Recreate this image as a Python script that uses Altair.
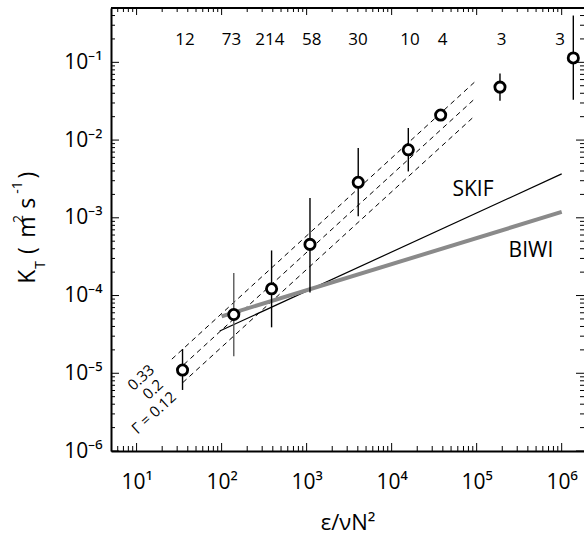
import altair as alt
import pandas as pd
import math

# ---------------- data ----------------
ratio = [34.7, 139, 387, 1095, 4045, 15700, 37700, 188000, 1370000]
kt = [1.1e-5, 5.7e-5, 1.22e-4, 4.55e-4, 2.86e-3, 7.5e-3, 2.1e-2, 4.8e-2, 0.114]
kt_low = [6.1e-6, 1.65e-5, 3.9e-5, 1.09e-4, 1.05e-3, 3.95e-3, 2.1e-2, 3.2e-2, 0.033]
kt_high = [2.05e-5, 1.95e-4, 3.8e-4, 1.8e-3, 7.9e-3, 1.43e-2, 2.1e-2, 7.2e-2, 0.40]

counts = ["12", "73", "214", "58", "30", "10", "4", "3", "3"]
count_x = [37, 131, 370, 1145, 4010, 16400, 39800, 197000, 955000]
count_y = [0.195, 0.195, 0.195, 0.195, 0.195, 0.195, 0.195, 0.195, 0.195]

gamma_labels = ["0.33", "0.2", "Γ = 0.12"]
gamma_x0 = [26, 30, 35]
gamma_y0 = [1.52e-5, 1.08e-5, 7.6e-6]
gamma_x1 = [95000, 95000, 95000]
gamma_y1 = [5.6e-2, 3.4e-2, 2.05e-2]
gamma_label_x = [11.3, 15.6, 16.0]
gamma_label_y = [8.8e-6, 6.2e-6, 3.1e-6]

model_names = ["SKIF", "BIWI"]
model_x0 = [95, 100]
model_y0 = [3.5e-5, 5.4e-5]
model_x1 = [1e6, 1e6]
model_y1 = [3.67e-3, 1.19e-3]
model_label_x = [90500, 435000]
model_label_y = [2.26e-3, 3.73e-4]

x_ticks = [10, 100, 1000, 10000, 100000, 1000000]
y_ticks = [1e-6, 1e-5, 1e-4, 1e-3, 1e-2, 1e-1]

# ---------------- layout ----------------
W, H = 473, 443
FONT = "Open Sans"

SUP = {"-": "\u207b", "0": "\u2070", "1": "\u00b9", "2": "\u00b2", "3": "\u00b3",
       "4": "\u2074", "5": "\u2075", "6": "\u2076", "7": "\u2077", "8": "\u2078", "9": "\u2079"}


def label_expr(vals):
    e = "round(log(datum.value)/LN10)"
    parts = []
    for v in vals:
        k = int(round(math.log10(v)))
        s = "10" + "".join(SUP[c] for c in str(k))
        parts.append(f"({e}=={k}) ? '{s}' : ")
    return "".join(parts) + "''"


xscale = alt.Scale(type="log", domain=[5, 1.83e6], nice=False)
yscale = alt.Scale(type="log", domain=[1e-6, 0.5], nice=False)

xaxis = alt.Axis(values=x_ticks, labelExpr=label_expr(x_ticks), ticks=False, tickSize=0,
                 grid=False, domain=True, domainColor="black", domainWidth=2,
                 labelFont=FONT, labelFontSize=21, labelColor="black",
                 labelBaseline="alphabetic", labelPadding=37, labelFlush=False,
                 labelOverlap=False, title="ε/νN²", titleFont=FONT, titleFontSize=22,
                 titleFontWeight="normal", titleColor="black",
                 titleBaseline="alphabetic", titleY=78)
yaxis = alt.Axis(values=y_ticks, labelExpr=label_expr(y_ticks), ticks=False, tickSize=0,
                 grid=False, domain=True, domainColor="black", domainWidth=2,
                 labelFont=FONT, labelFontSize=21, labelColor="black",
                 labelPadding=9, labelOverlap=False, labelFlush=False, title=None)


def X(f):
    return alt.X(f, type="quantitative", scale=xscale, axis=xaxis)


def Y(f):
    return alt.Y(f, type="quantitative", scale=yscale, axis=yaxis)


pts = pd.DataFrame({"x": ratio, "y": kt, "lo": kt_low, "hi": kt_high, "n": counts})
cnt = pd.DataFrame({"x": count_x, "y": count_y, "n": counts})
gam = pd.DataFrame({"x0": gamma_x0, "y0": gamma_y0, "x1": gamma_x1, "y1": gamma_y1,
                    "lx": gamma_label_x, "ly": gamma_label_y, "g": gamma_labels})
mod = pd.DataFrame({"x0": model_x0, "y0": model_y0, "x1": model_x1, "y1": model_y1,
                    "lx": model_label_x, "ly": model_label_y, "m": model_names})

base_pts = alt.Chart(pts)

dashed = alt.Chart(gam).mark_rule(color="black", strokeWidth=1, strokeDash=[5, 4]).encode(
    x=X("x0"), y=Y("y0"), x2="x1", y2="y1")
gam_text = alt.Chart(gam).mark_text(font=FONT, fontSize=15, angle=317.5, align="center",
                                    baseline="middle", color="black").encode(
    x=X("lx"), y=Y("ly"), text="g")

skif = alt.Chart(mod).transform_filter("datum.m == 'SKIF'").mark_rule(
    color="black", strokeWidth=1.2).encode(x=X("x0"), y=Y("y0"), x2="x1", y2="y1")
biwi = alt.Chart(mod).transform_filter("datum.m == 'BIWI'").mark_rule(
    color="#8a8a8a", strokeWidth=4).encode(x=X("x0"), y=Y("y0"), x2="x1", y2="y1")
mod_text = alt.Chart(mod).mark_text(font=FONT, fontSize=21, align="center",
                                    baseline="middle", color="black").encode(
    x=X("lx"), y=Y("ly"), text="m")

err = base_pts.mark_rule(strokeWidth=1.4).encode(
    x=X("x"), y=Y("lo"), y2="hi",
    color=alt.condition("datum.n == '73'", alt.value("#5a5a5a"), alt.value("black")))
dots = base_pts.mark_point(shape="circle", size=105, filled=True, fill="white",
                           stroke="black", strokeWidth=2.8, opacity=1).encode(
    x=X("x"), y=Y("y"))
cnt_text = alt.Chart(cnt).mark_text(font=FONT, fontSize=17, align="center",
                                    baseline="middle", color="black").encode(
    x=X("x"), y=Y("y"), text="n")

# ---------------- frame ticks (inward) ----------------
x_minor = [v for d in range(0, 6) for v in [k * 10 ** d for k in range(2, 10)]
           if 5 < v < 1.83e6]
y_minor = [v for d in range(-6, 0) for v in [k * 10.0 ** d for k in range(2, 10)]
           if 1e-6 < v < 0.5]

xmaj = pd.DataFrame({"v": x_ticks})
xmin = pd.DataFrame({"v": x_minor})
ymaj = pd.DataFrame({"v": y_ticks})
ymin = pd.DataFrame({"v": y_minor})


def xt(df, y1, y2):
    return alt.Chart(df).mark_rule(color="black", strokeWidth=1).encode(
        x=X("v"), y=alt.value(y1), y2=alt.value(y2))


def yt(df, x1, x2):
    return alt.Chart(df).mark_rule(color="black", strokeWidth=1).encode(
        y=Y("v"), x=alt.value(x1), x2=alt.value(x2))


ticks = [
    xt(xmaj, H, H - 8), xt(xmin, H, H - 5),
    xt(xmaj, 0, 7), xt(xmin, 0, 4),
    yt(ymaj, 0, 8), yt(ymin, 0, 4),
    yt(ymaj, W, W - 8), yt(ymin, W, W - 4),
]

top_spine = alt.Chart(xmaj).mark_rule(color="black", strokeWidth=2).encode(
    x=alt.value(0), x2=alt.value(W), y=alt.value(0))


# ---------------- y axis title pieces ----------------
def piece(txt, x, y, size):
    return alt.Chart(xmaj).transform_filter("datum.v == 10").mark_text(
        text=txt, font=FONT, fontSize=size, angle=270, align="center",
        baseline="alphabetic", color="black").encode(x=alt.value(x), y=alt.value(y))


L, T = 111, 8
title_parts = [
    piece("K", 35 - L, 276.7 - T, 23),
    piece("T", 45 - L, 265 - T, 14),
    piece("(", 35 - L, 250.5 - T, 23),
    piece("m", 35 - L, 227 - T, 23),
    piece("2", 23 - L, 219 - T, 14),
    piece("s", 35 - L, 203.3 - T, 23),
    piece("-1", 22 - L, 187.5 - T, 14),
    piece(")", 35 - L, 175 - T, 23),
]

chart = alt.layer(
    dashed, skif, biwi, err, dots, cnt_text, gam_text, mod_text,
    *ticks, top_spine, *title_parts
).properties(
    width=W, height=H,
    padding={"left": L, "top": T, "right": 0, "bottom": 536 - T - H},
    autosize=alt.AutoSizeParams(type="none"),
    background="white",
).configure_view(stroke=None)

chart.save("out.html", embed_options={"renderer": "svg", "actions": False})
